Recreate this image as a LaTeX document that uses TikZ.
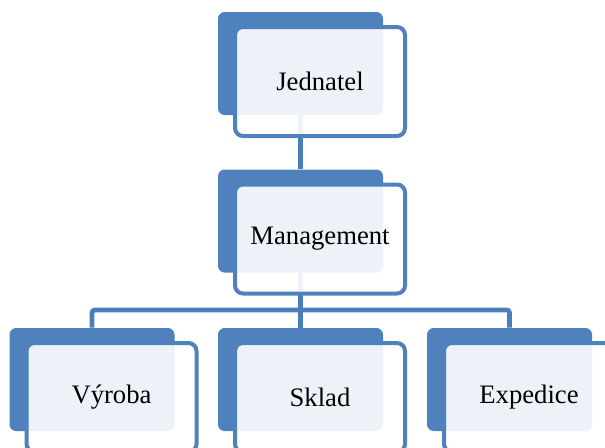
\documentclass[tikz,border=0pt]{standalone}
\usepackage{fontspec}
\setmainfont{Liberation Serif}
\usetikzlibrary{backgrounds,calc}
\definecolor{boxblue}{HTML}{4F81BD}
\definecolor{lineblue}{HTML}{4A7EBB}

\begin{document}
\begin{tikzpicture}[x=0.75pt,y=-0.75pt,
    backbox/.style={fill=boxblue,rounded corners=5pt,inner sep=0pt,
      minimum width=123.75pt,minimum height=77.25pt},
    frontbox/.style={draw=boxblue,line width=3pt,fill=white,fill opacity=0.9,
      text opacity=1,rounded corners=6pt,inner sep=0pt,
      minimum width=127.5pt,minimum height=81.75pt,font=\fontsize{20}{24}\selectfont},
    link/.style={draw=lineblue,line width=3.5pt}]
    \useasboundingbox (0,0) rectangle (605,447);
    \clip (0,0) rectangle (605,447);
    % top levels
    \node[backbox] (jednatelb) at (300.5,63.5) {};
    \node[frontbox] (jednatel) at ($(jednatelb)+(19.5,18)$) {Jednatel};
    \node[backbox] (managementb) at (300.5,221) {};
    \node[frontbox] (management) at ($(managementb)+(19.5,18)$) {Management};
    % departments
    \node[backbox] (vyrobab) at (92,379.5) {};
    \node[frontbox] (vyroba) at ($(vyrobab)+(19.5,18)$) {Výroba};
    \node[backbox] (skladb) at (300.5,379.5) {};
    \node[frontbox] (sklad) at ($(skladb)+(19.5,18)$) {Sklad};
    \node[backbox] (expediceb) at (509.5,379.5) {};
    \node[frontbox] (expedice) at ($(expediceb)+(19.5,18)$) {Expedice};
    \coordinate (bus) at (300.5,310);
    \begin{scope}[on background layer]
      \draw[link] (jednatelb.south) -- (managementb.north);
      \draw[link] (managementb.south) -- (skladb.north);
      \draw[link,rounded corners=2pt] (vyrobab.north) |- (bus) -| (expediceb.north);
    \end{scope}
  \end{tikzpicture}
\end{document}
